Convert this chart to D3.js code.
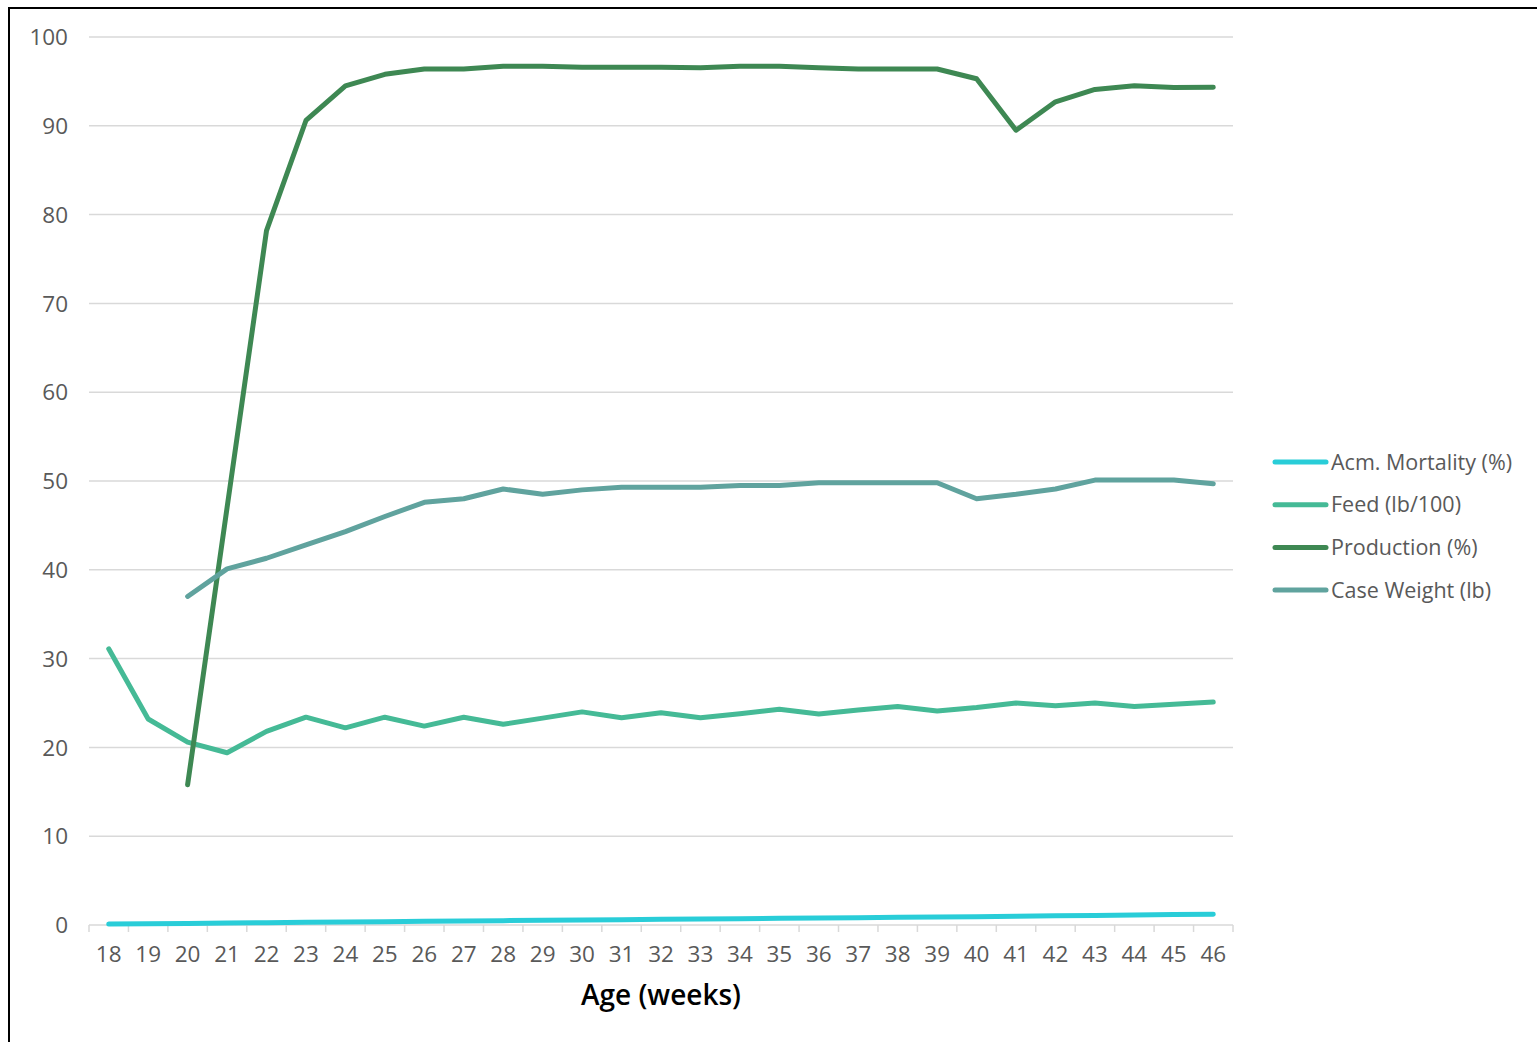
<!DOCTYPE html>
<html>
<head>
<meta charset="utf-8">
<script src="https://cdn.jsdelivr.net/npm/d3@7"></script>
<style>
  body { margin: 0; background: #fff; }
  text { font-family: "Open Sans", "Liberation Sans", sans-serif; }
</style>
</head>
<body>
<div id="chart"></div>
<script>
// weeks on the x axis
var weeks = [18,19,20,21,22,23,24,25,26,27,28,29,30,31,32,33,34,35,36,37,38,39,40,41,42,43,44,45,46];

var mortality = [0.1,0.15,0.18,0.22,0.26,0.3,0.33,0.37,0.41,0.45,0.49,0.53,0.57,0.6,0.65,0.68,0.71,0.75,0.78,0.82,0.86,0.9,0.93,0.98,1.04,1.08,1.12,1.17,1.22];
var feed = [31.1,23.2,20.6,19.4,21.8,23.4,22.2,23.4,22.4,23.4,22.6,23.3,24.0,23.35,23.9,23.35,23.8,24.3,23.75,24.2,24.6,24.1,24.5,25.0,24.7,25.0,24.6,24.85,25.1];
var production = [null,null,15.8,47.0,78.2,90.6,94.5,95.8,96.4,96.4,96.7,96.7,96.6,96.6,96.6,96.55,96.7,96.7,96.55,96.4,96.4,96.4,95.3,89.5,92.7,94.1,94.5,94.3,94.35];
var caseWeight = [null,null,37.0,40.1,41.3,42.8,44.3,46.0,47.6,48.0,49.1,48.5,49.0,49.3,49.3,49.3,49.5,49.5,49.8,49.8,49.8,49.8,48.0,48.5,49.1,50.1,50.1,50.1,49.7];

var seriesNames = ["Acm. Mortality (%)", "Feed (lb/100)", "Production (%)", "Case Weight (lb)"];
var seriesColors = ["#29cdd8", "#45ba96", "#3e8853", "#60a39e"];
var yTicks = [0,10,20,30,40,50,60,70,80,90,100];

var series = [mortality, feed, production, caseWeight].map(function(vals, i) {
  return {name: seriesNames[i], color: seriesColors[i], values: vals};
});

var width = 1537,
    height = 1042,
    margin = {top: 37, right: 304, bottom: 117, left: 89};

var svg = d3.select("#chart").append("svg")
  .attr("width", width)
  .attr("height", height);

// frame lines (left + top)
svg.append("path")
  .attr("d", "M9,1042 V8 H1537")
  .attr("fill", "none")
  .attr("stroke", "#000")
  .attr("stroke-width", 2);

var g = svg.append("g")
  .attr("transform", `translate(${margin.left},${margin.top})`);

var innerW = width - margin.left - margin.right,
    innerH = height - margin.top - margin.bottom;

var xScale = d3.scaleBand().domain(weeks).range([0, innerW]);
var yScale = d3.scaleLinear().domain([0, 100]).range([innerH, 0]);

// gridlines
g.append("g").selectAll("line")
  .data(yTicks.filter(d => d > 0))
  .enter().append("line")
  .attr("x1", 0).attr("x2", innerW)
  .attr("y1", d => yScale(d)).attr("y2", d => yScale(d))
  .attr("stroke", "#d9d9d9")
  .attr("stroke-width", 1.5);

// y axis labels
var yAxis = d3.axisLeft(yScale).tickValues(yTicks).tickSize(0).tickPadding(21);
var yG = g.append("g").call(yAxis);
yG.select(".domain").remove();
yG.selectAll("text")
  .attr("fill", "#595959")
  .attr("dy", "0.34em")
  .style("font-size", "22.5px");

// x axis
var xG = g.append("g").attr("transform", `translate(0,${innerH})`);
xG.append("line")
  .attr("x1", 0).attr("x2", innerW)
  .attr("stroke", "#d9d9d9").attr("stroke-width", 1.5);
xG.selectAll(".tk")
  .data(weeks.concat(["end"]))
  .enter().append("line")
  .attr("class", "tk")
  .attr("x1", (d, i) => i * xScale.step())
  .attr("x2", (d, i) => i * xScale.step())
  .attr("y1", 0).attr("y2", 7)
  .attr("stroke", "#d9d9d9").attr("stroke-width", 1.5);
xG.selectAll(".lbl")
  .data(weeks)
  .enter().append("text")
  .attr("class", "lbl")
  .attr("x", d => xScale(d) + xScale.bandwidth() / 2)
  .attr("y", 37)
  .attr("text-anchor", "middle")
  .attr("fill", "#595959")
  .style("font-size", "22.5px")
  .text(d => d);

g.append("text")
  .attr("x", innerW / 2)
  .attr("y", innerH + 80)
  .attr("text-anchor", "middle")
  .attr("fill", "#000")
  .style("font-size", "28px")
  .style("font-weight", "600")
  .text("Age (weeks)");

// lines
var line = d3.line()
  .defined(d => d != null)
  .x((d, i) => xScale(weeks[i]) + xScale.bandwidth() / 2)
  .y(d => yScale(d));

g.selectAll(".series")
  .data(series)
  .enter().append("path")
  .attr("class", "series")
  .attr("fill", "none")
  .attr("stroke", d => d.color)
  .attr("stroke-width", 5)
  .attr("stroke-linejoin", "round")
  .attr("stroke-linecap", "round")
  .attr("d", d => line(d.values));

// legend
var legend = svg.append("g").attr("transform", "translate(1275,462)");
var item = legend.selectAll(".leg")
  .data(series)
  .enter().append("g")
  .attr("class", "leg")
  .attr("transform", (d, i) => `translate(0,${i * 42.7})`);
item.append("line")
  .attr("x1", 0).attr("x2", 51)
  .attr("stroke", d => d.color)
  .attr("stroke-width", 5)
  .attr("stroke-linecap", "round");
item.append("text")
  .attr("x", 56)
  .attr("y", 7.5)
  .attr("fill", "#595959")
  .style("font-size", "21.5px")
  .text(d => d.name);
</script>
</body>
</html>
